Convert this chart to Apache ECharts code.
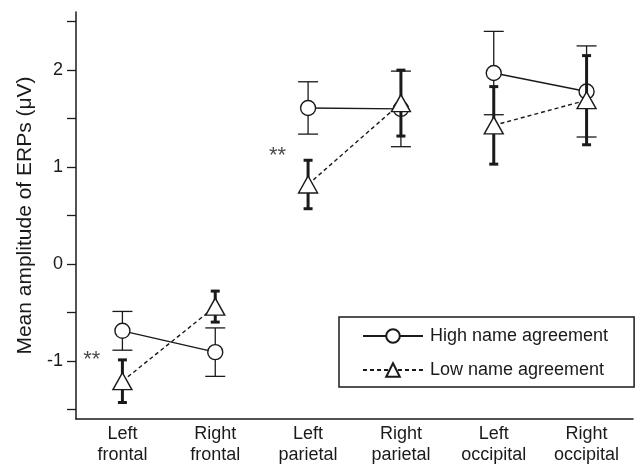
<!DOCTYPE html>
<html>
<head>
<meta charset="utf-8">
<script src="https://cdn.jsdelivr.net/npm/echarts@6/dist/echarts.min.js"></script>
<style>html,body{margin:0;padding:0;background:#fff;}#c{width:641px;height:465px;}</style>
</head>
<body>
<div id="c"></div>
<script>
const categories = ['Left\nfrontal', 'Right\nfrontal', 'Left\nparietal', 'Right\nparietal', 'Left\noccipital', 'Right\noccipital'];
const highMean = [-0.69, -0.91, 1.61, 1.60, 1.97, 1.78];
const highErr  = [0.20, 0.25, 0.27, 0.39, 0.43, 0.47];
const lowMean  = [-1.21, -0.44, 0.82, 1.66, 1.43, 1.69];
const lowErr   = [0.22, 0.16, 0.25, 0.34, 0.40, 0.46];
const yTickValues  = [-1.5, -1, -0.5, 0, 0.5, 1, 1.5, 2, 2.5];
const yLabelValues = [-1, 0, 1, 2];
const sigCategoryIdx = [0, 2];
const sigValues = [-0.99, 1.11];
const highName = 'High name agreement';
const lowName = 'Low name agreement';

const FONT = 'Liberation Sans, Arial, Helvetica, sans-serif';
const INK = '#1a1a1a';

function errData(mean, err) {
  return mean.map((m, i) => [i, m - err[i], m + err[i]]);
}
function errSeries(mean, err, lw, capW, z) {
  return {
    type: 'custom',
    z: z,
    silent: true,
    data: errData(mean, err),
    encode: { x: 0, y: [1, 2] },
    renderItem: function (params, api) {
      const x = api.value(0);
      const lo = api.coord([x, api.value(1)]);
      const hi = api.coord([x, api.value(2)]);
      const h = capW / 2;
      const st = { stroke: INK, lineWidth: lw, fill: null };
      return {
        type: 'group',
        children: [
          { type: 'line', shape: { x1: lo[0], y1: lo[1], x2: hi[0], y2: hi[1] }, style: st },
          { type: 'line', shape: { x1: lo[0] - h, y1: lo[1], x2: lo[0] + h, y2: lo[1] }, style: st },
          { type: 'line', shape: { x1: hi[0] - h, y1: hi[1], x2: hi[0] + h, y2: hi[1] }, style: st }
        ]
      };
    }
  };
}
function pairData(mean, p) {
  return categories.map((c, i) => (Math.floor(i / 2) === p ? mean[i] : '-'));
}
const series = [];
series.push(errSeries(highMean, highErr, 1.3, 20, 1));
for (let p = 0; p < 3; p++) {
  series.push({
    type: 'line', name: highName, z: 2,
    data: pairData(highMean, p),
    symbol: 'circle', symbolSize: 15,
    lineStyle: { color: INK, width: 1.4, type: 'solid' },
    itemStyle: { color: '#fff', borderColor: INK, borderWidth: 1.4 },
    emphasis: { disabled: true },
    animation: false
  });
}
series.push(errSeries(lowMean, lowErr, 3, 9, 3));
for (let p = 0; p < 3; p++) {
  series.push({
    type: 'line', name: lowName, z: 4,
    data: pairData(lowMean, p),
    symbol: 'triangle', symbolSize: [19, 17],
    lineStyle: { color: INK, width: 1.4, type: [4, 3] },
    itemStyle: { color: '#fff', borderColor: INK, borderWidth: 1.4 },
    emphasis: { disabled: true },
    animation: false
  });
}
// significance marks
series.push({
  type: 'scatter', z: 5, silent: true,
  data: sigCategoryIdx.map((c, i) => [c, sigValues[i]]),
  symbolSize: 0,
  label: { show: true, formatter: '**', position: 'left', distance: 22, fontSize: 22, fontFamily: FONT, color: INK },
  animation: false
});

const chart = echarts.init(document.getElementById('c'), null, { renderer: 'canvas' });
chart.setOption({
  backgroundColor: '#fff',
  animation: false,
  grid: { left: 76, right: 8, top: 12, bottom: 46, containLabel: false, outerBoundsMode: 'none' },
  legend: {
    data: [highName, lowName],
    orient: 'vertical',
    left: 339, top: 317,
    padding: [10, 26, 8, 23],
    itemWidth: 60, itemHeight: 17, itemGap: 16,
    borderColor: INK, borderWidth: 1.5,
    backgroundColor: '#fff',
    selectedMode: false,
    textStyle: { fontSize: 18, fontFamily: FONT, color: INK, padding: [0, 0, 0, 2] }
  },
  xAxis: {
    type: 'category',
    data: categories,
    boundaryGap: true,
    axisLine: { onZero: false, lineStyle: { color: INK, width: 1.5 } },
    axisTick: { show: false },
    axisLabel: { fontSize: 18, fontFamily: FONT, color: INK, lineHeight: 21, margin: 5, interval: 0 },
    splitLine: { show: false }
  },
  yAxis: {
    type: 'value',
    min: -1.6, max: 2.6,
    name: 'Mean amplitude of ERPs (μV)',
    nameLocation: 'middle',
    nameGap: 38,
    nameTextStyle: { fontSize: 21, fontFamily: FONT, color: INK },
    axisLine: { show: true, lineStyle: { color: INK, width: 1.5 } },
    axisTick: { show: true, length: 9, lineStyle: { color: INK, width: 1.3 }, customValues: yTickValues },
    axisLabel: { fontSize: 18, fontFamily: FONT, color: INK, margin: 13, customValues: yLabelValues },
    splitLine: { show: false }
  },
  series: series
});
</script>
</body>
</html>
